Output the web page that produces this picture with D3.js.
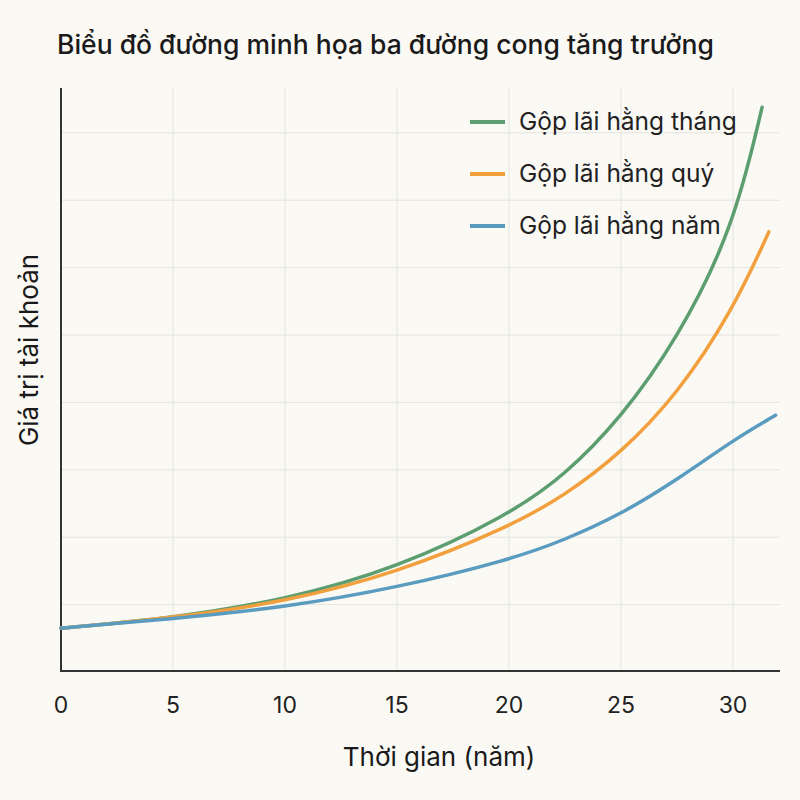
<!DOCTYPE html>
<html><head><meta charset="utf-8">
<script src="https://cdn.jsdelivr.net/npm/d3@7"></script>
<style>body{margin:0;background:#faf9f4}</style>
</head><body><div id="chart"></div>
<script>
// Data (value units = grid steps)
const years = [0, 5, 10, 15, 20, 22.5, 25, 27.5, 30];
const monthly = [0.65, 0.80, 1.07, 1.54, 2.33, 2.92, 3.77, 4.93, 6.56, 8.38];
const quarterly = [0.65, 0.80, 1.04, 1.47, 2.15, 2.62, 3.25, 4.11, 5.37, 6.53];
const annual = [0.65, 0.79, 0.96, 1.25, 1.66, 1.96, 2.34, 2.85, 3.44, 3.81];
const endYears = [31.3, 31.6, 31.9];
const xTicks = [0, 5, 10, 15, 20, 25, 30];
const yGrid = [1, 2, 3, 4, 5, 6, 7, 8];
const seriesNames = ["Gộp lãi hằng tháng", "Gộp lãi hằng quý", "Gộp lãi hằng năm"];
const colors = ["#5c9e70", "#f2a03d", "#5a9bc0"];

const W = 800, H = 800;
const svg = d3.select("#chart").append("svg").attr("width", W).attr("height", H)
    .style("font-family", "Inter, 'Noto Sans', sans-serif");
svg.append("rect").attr("width", W).attr("height", H).attr("fill", "#faf9f4");

const x = d3.scaleLinear().domain([0, 30]).range([61, 733]);
const y = d3.scaleLinear().domain([0, 9]).range([672, 65.4]);

// Gridlines
svg.append("g").selectAll("line").data(yGrid).join("line")
    .attr("x1", 61).attr("x2", 780).attr("y1", d => y(d)).attr("y2", d => y(d))
    .attr("stroke", "#e4e4e0").attr("stroke-width", 1);
svg.append("g").selectAll("line").data(xTicks.slice(1)).join("line")
    .attr("x1", d => x(d)).attr("x2", d => x(d)).attr("y1", 88).attr("y2", 672)
    .attr("stroke", "#e4e4e0").attr("stroke-width", 1);

// Axes
svg.append("line").attr("x1", 61).attr("x2", 61).attr("y1", 88).attr("y2", 672)
    .attr("stroke", "#333").attr("stroke-width", 2);
svg.append("line").attr("x1", 60).attr("x2", 780).attr("y1", 671).attr("y2", 671)
    .attr("stroke", "#333").attr("stroke-width", 2);
svg.append("g").selectAll("text").data(xTicks).join("text")
    .attr("x", d => x(d)).attr("y", 713).attr("text-anchor", "middle")
    .attr("font-size", 23).attr("fill", "#222").text(d => d);

// Lines
const line = d3.line().x(d => x(d[0])).y(d => y(d[1])).curve(d3.curveBasis);
[monthly, quarterly, annual].forEach((vals, i) => {
    const pts = vals.map((v, j) => [j < years.length ? years[j] : endYears[i], v]);
    svg.append("path").datum(pts).attr("d", line).attr("fill", "none")
        .attr("stroke", colors[i]).attr("stroke-width", 3.5).attr("stroke-linecap", "round");
});

// Legend
seriesNames.forEach((name, i) => {
    const ly = 122 + i * 52;
    svg.append("line").attr("x1", 470).attr("x2", 505).attr("y1", ly).attr("y2", ly)
        .attr("stroke", colors[i]).attr("stroke-width", 4);
    svg.append("text").attr("x", 519).attr("y", ly + 8).attr("font-size", 24.5)
        .attr("fill", "#222").text(name);
});

// Titles
svg.append("text").attr("x", 57).attr("y", 54).attr("font-size", 26.5).attr("font-weight", 500)
    .attr("fill", "#1a1a1a").text("Biểu đồ đường minh họa ba đường cong tăng trưởng");
svg.append("text").attr("x", 439).attr("y", 766).attr("text-anchor", "middle")
    .attr("font-size", 26).attr("fill", "#1a1a1a").text("Thời gian (năm)");
svg.append("text").attr("transform", "translate(38,350) rotate(-90)").attr("text-anchor", "middle")
    .attr("font-size", 26).attr("fill", "#1a1a1a").text("Giá trị tài khoản");
</script></body></html>
